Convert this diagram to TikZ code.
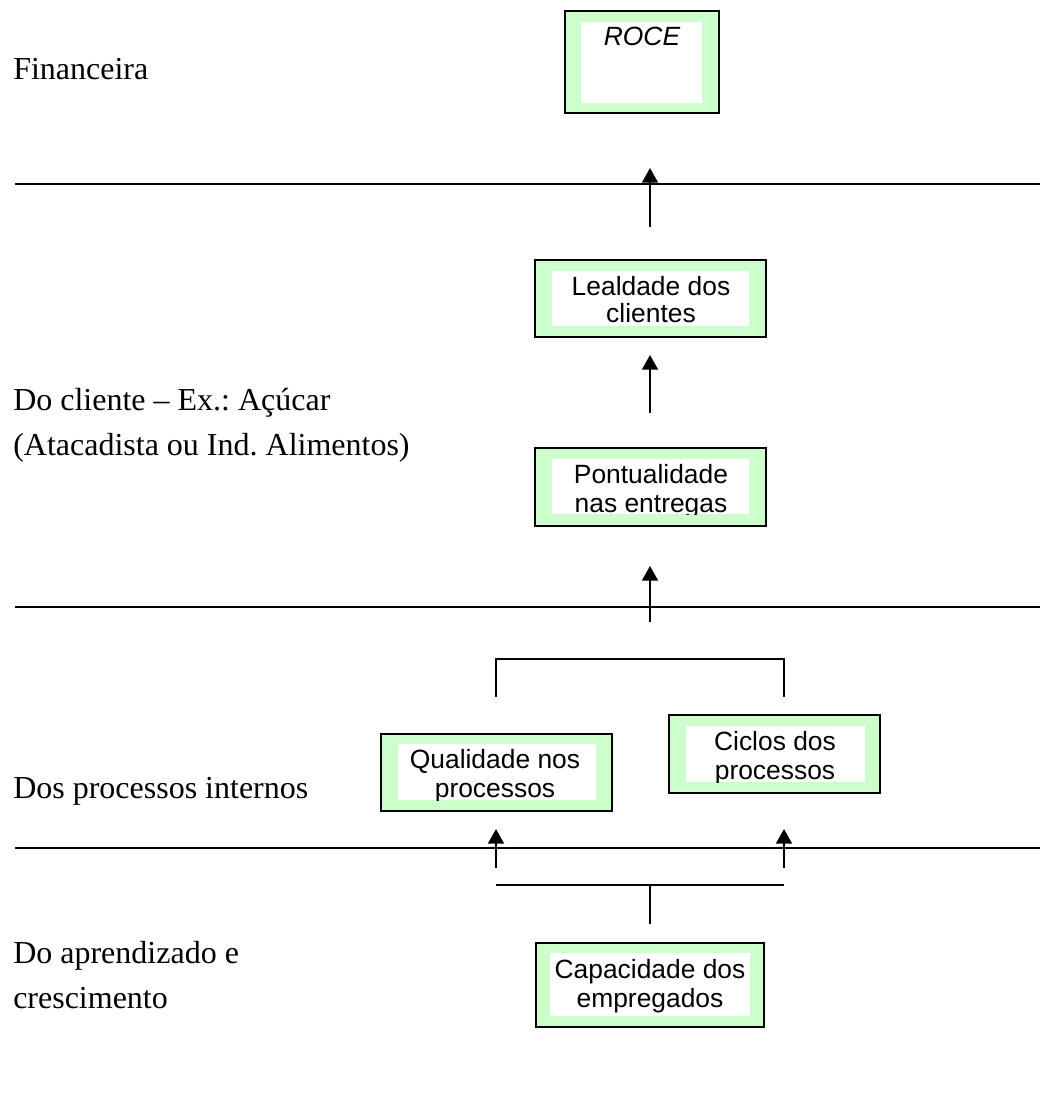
\documentclass[tikz,border=0pt]{standalone}
\usepackage{fontspec}
\setmainfont{Liberation Serif}
\newfontfamily\boxfont{Liberation Sans}
\usetikzlibrary{arrows.meta,fit}
\definecolor{boxgreen}{HTML}{CCFFCC}
\frenchspacing
\tikzset{
  divider/.style={line width=1.3pt},
  flow/.style={line width=1.3pt,-{Triangle[width=12pt,length=11pt]}},
  link/.style={line width=1.3pt},
  outerbox/.style={draw, line width=1.4pt, fill=boxgreen, inner sep=0pt},
  boxtext/.style={font=\boxfont\fontsize{19.8}{22}\selectfont, inner sep=0pt, anchor=base},
  perspective/.style={font=\fontsize{24}{28}\selectfont, inner sep=0pt, anchor=base west},
}
% name, outer corners, inner (white) corners, clipped text
\newcommand\greenbox[6]{%
  \node[outerbox, fit={#2 #3}] (#1) {};
  \fill[white] #4 rectangle #5;
  \begin{scope}\clip #4 rectangle #5; #6\end{scope}}
\begin{document}
\begin{tikzpicture}[x=0.75pt,y=-0.75pt]
\useasboundingbox (0,0) rectangle (1042,1111);

% perspective labels
\node[perspective] (fin) at (13,79) {Financeira};
\node[perspective] (cli1) at (13,410) {Do cliente -- Ex.: Açúcar};
\node[perspective] (cli2) at (13,455) {(Atacadista ou Ind. Alimentos)};
\node[perspective] (proc) at (13,798) {Dos processos internos};
\node[perspective] (apr1) at (13,963) {Do aprendizado e};
\node[perspective] (apr2) at (13,1008) {crescimento};

% dividing lines
\coordinate (d1a) at (15,184);  \coordinate (d1b) at (1040,184);
\coordinate (d2a) at (15,607);  \coordinate (d2b) at (1040,607);
\coordinate (d3a) at (15,848);  \coordinate (d3b) at (1040,848);
\draw[divider] (d1a) -- (d1b);
\draw[divider] (d2a) -- (d2b);
\draw[divider] (d3a) -- (d3b);

% boxes
\greenbox{roce}{(565,11)}{(719,113)}{(581,22)}{(702,103)}{%
  \node[boxtext] (roce-t) at (642,45) {\itshape ROCE};}
\greenbox{leal}{(535,260)}{(766,337)}{(552,271)}{(749,326)}{%
  \node[boxtext] (leal-1) at (651,295) {Lealdade dos};
  \node[boxtext] (leal-2) at (651,322) {clientes};}
\greenbox{pont}{(535,448)}{(766,526)}{(552,459)}{(749,514)}{%
  \node[boxtext] (pont-1) at (651,483) {Pontualidade};
  \node[boxtext] (pont-2) at (651,512) {nas entregas};}
\greenbox{qual}{(381,734)}{(612,811)}{(398,744)}{(596,800)}{%
  \node[boxtext] (qual-1) at (495,768) {Qualidade nos};
  \node[boxtext] (qual-2) at (495,797) {processos};}
\greenbox{cicl}{(669,715)}{(880,793)}{(686,726)}{(865,782)}{%
  \node[boxtext] (cicl-1) at (775,750) {Ciclos dos};
  \node[boxtext] (cicl-2) at (775,779) {processos};}
\greenbox{capa}{(536,943)}{(764,1027)}{(550,953)}{(750,1016)}{%
  \node[boxtext] (capa-1) at (650,978) {Capacidade dos};
  \node[boxtext] (capa-2) at (650,1007) {empregados};}

% arrows between levels
\coordinate (a1s) at (650,227); \coordinate (a1e) at (650,168);
\coordinate (a2s) at (650,413); \coordinate (a2e) at (650,355);
\coordinate (a3s) at (650,622); \coordinate (a3e) at (650,566);
\coordinate (a4s) at (496,868); \coordinate (a4e) at (496,829);
\coordinate (a5s) at (784,868); \coordinate (a5e) at (784,829);
\draw[flow] (a1s) -- (a1e);
\draw[flow] (a2s) -- (a2e);
\draw[flow] (a3s) -- (a3e);
\draw[flow] (a4s) -- (a4e);
\draw[flow] (a5s) -- (a5e);

% bracket joining the two process boxes
\coordinate (b1) at (496,697); \coordinate (b2) at (496,659);
\coordinate (b3) at (784,659); \coordinate (b4) at (784,697);
\draw[link] (b1) -- (b2) -- (b3) -- (b4);

% bracket fed by employee capability
\coordinate (c1) at (496,885); \coordinate (c2) at (784,885);
\coordinate (c3) at (650,885); \coordinate (c4) at (650,924);
\draw[link] (c1) -- (c2);
\draw[link] (c3) -- (c4);
\end{tikzpicture}
\end{document}
